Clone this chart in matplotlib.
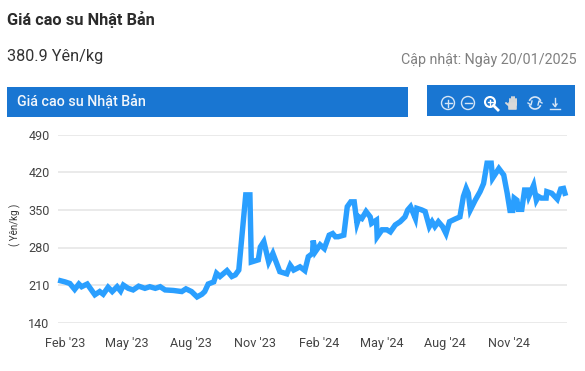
import matplotlib
matplotlib.use("Agg")
import matplotlib.pyplot as plt
import matplotlib.dates as mdates
from matplotlib.patches import Arc, Circle, Rectangle, FancyBboxPatch
import pandas as pd

plt.rcParams['font.family'] = ['Roboto', 'DejaVu Sans']

# days counted from 1 Feb 2023, values in Yen/kg
days = [-6, 0, 7, 14, 20, 24, 32, 43, 50, 55, 62, 68, 75, 80, 84, 91, 98, 106, 115, 122,
        130, 137, 144, 156, 168, 174, 182, 190, 197, 201, 206, 214, 218, 223, 233, 240, 245, 250,
        254, 258, 260, 266, 268, 278, 281, 286, 293, 299, 309, 319, 324, 329, 338, 345, 350, 356,
        357, 360, 367, 373, 380, 385, 389, 393, 401, 406, 411, 416, 420, 423, 427, 433, 439, 441,
        448, 449, 456, 463, 468, 475, 482, 489, 493, 497, 504, 506, 513, 518, 524, 528, 532, 537,
        543, 548, 553, 561, 568, 573, 577, 580, 583, 590, 597, 602, 607, 613, 615, 624, 631, 636,
        640, 644, 646, 650, 652, 657, 661, 665, 667, 674, 678, 681, 685, 692, 693, 700, 708, 713,
        717, 719]
prices = [218, 216, 213, 202, 212, 207, 212, 192, 198, 193, 206, 198, 207, 199, 210, 204, 201, 208, 204, 207,
          204, 207, 201, 200, 198, 203, 198, 188, 193, 198, 212, 216, 232, 226, 237, 226, 229, 238,
          294, 350, 378, 378, 253, 257, 281, 291, 253, 269, 235, 231, 247, 238, 244, 237, 263, 269,
          293, 272, 285, 278, 303, 306, 300, 300, 303, 356, 365, 365, 325, 337, 334, 347, 337, 325,
          331, 300, 313, 313, 309, 322, 328, 337, 350, 356, 334, 353, 350, 347, 319, 328, 319, 328,
          319, 306, 328, 333, 337, 375, 390, 381, 350, 368, 384, 399, 437, 437, 409, 427, 415, 381,
          349, 349, 372, 368, 351, 351, 387, 387, 375, 396, 368, 375, 372, 372, 384, 381, 370, 389,
          390, 381]
y_ticks = [140, 210, 280, 350, 420, 490]
x_tick_dates = ['2023-02-01', '2023-05-01', '2023-08-01', '2023-11-01',
                '2024-02-01', '2024-05-01', '2024-08-01', '2024-11-01']

dates = pd.Timestamp('2023-02-01') + pd.to_timedelta(days, unit='D')
tick_pos = pd.to_datetime(x_tick_dates)

W, H = 585, 371
fig = plt.figure(figsize=(W / 100, H / 100), dpi=100)

# page furniture, drawn in pixel coordinates
bg = fig.add_axes([0, 0, 1, 1])
bg.set_xlim(0, W)
bg.set_ylim(H, 0)
bg.axis('off')
blue = '#1976d2'
bg.add_patch(Rectangle((7, 87), 401, 30, color=blue, lw=0))
bg.add_patch(Rectangle((427, 85), 148, 31, color=blue, lw=0))
bg.text(7, 20, 'Giá cao su Nhật Bản', fontsize=11.8, fontweight='bold', color='#2b2b2b', va='center')
bg.text(7, 57, '380.9 Yên/kg', fontsize=11.7, color='#333333', va='center')
bg.text(577, 60, 'Cập nhật: Ngày 20/01/2025', fontsize=10.3, color='#808080', va='center', ha='right')
bg.text(17, 101, 'Giá cao su Nhật Bản', fontsize=10.3, fontweight='medium', color='#f2f6fb', va='center')

# toolbar icons
ic = '#d5e5f6'
for cx in (448, 468):
    bg.add_patch(Circle((cx, 103), 6.5, fill=False, ec=ic, lw=1))
    bg.plot([cx - 3.5, cx + 3.5], [103, 103], color=ic, lw=1)
bg.plot([448, 448], [99.5, 106.5], color=ic, lw=1)
bg.add_patch(Circle((490, 102), 5, fill=False, ec='white', lw=1.5))
bg.plot([493.5, 498], [105.5, 110], color='white', lw=2)
bg.plot([487.5, 492.5], [102, 102], color='white', lw=1)
bg.plot([490, 490], [99.5, 104.5], color='white', lw=1)
for fx, top in zip((509.5, 511.5, 513.5, 515.5), (99, 97, 97, 99)):
    bg.plot([fx, fx], [top, 105], color='#d9d9d9', lw=1.4, solid_capstyle='round')
bg.add_patch(FancyBboxPatch((509, 103), 7, 6, boxstyle='round,pad=0.8', color='#d9d9d9', lw=0))
bg.plot([506, 509.5], [103, 106], color='#d9d9d9', lw=1.4, solid_capstyle='round')
bg.add_patch(Arc((535, 103), 12, 12, theta1=200, theta2=340, ec=ic, lw=1.2))
bg.add_patch(Arc((535, 103), 12, 12, theta1=20, theta2=160, ec=ic, lw=1.2))
bg.plot([528, 531, 532], [103, 105, 101], color=ic, lw=1)
bg.plot([538, 539, 542], [105, 101, 103], color=ic, lw=1)
bg.plot([555, 555], [98, 106], color=ic, lw=1)
bg.plot([553, 555, 557], [104, 106.5, 104], color=ic, lw=1)
bg.plot([550, 560], [109, 109], color=ic, lw=1)
bg.set_zorder(0)

# chart area: gridlines span x 58-567, y 134.7-322.7
ax = fig.add_axes([58 / W, 1 - 322.7 / H, 509 / W, 188 / H])
ax.patch.set_alpha(0)
ax.set_xlim(pd.Timestamp('2023-02-01') - pd.Timedelta(days=10), pd.Timestamp('2023-02-01') + pd.Timedelta(days=722))
ax.set_ylim(140, 490)
ax.plot(dates, prices, color='#2a9fff', lw=3.9, solid_joinstyle='miter', clip_on=False, zorder=3)

ax.set_yticks(y_ticks)
ax.set_xticks(tick_pos)
ax.xaxis.set_major_formatter(mdates.DateFormatter("%b '%y"))
ax.grid(axis='y', color='#e6e6e6', lw=1.2)
ax.set_axisbelow(True)
for s in ax.spines.values():
    s.set_visible(False)
ax.tick_params(axis='both', length=0, labelsize=9.1, labelcolor='#444444')
ax.tick_params(axis='y', pad=6)
ax.tick_params(axis='x', pad=10)
ax.set_ylabel('( Yên/kg )', fontsize=7, color='#333333')
ax.yaxis.set_label_coords((21 - 58) / 509, 0.52)

fig.savefig('out.png', dpi=100)
